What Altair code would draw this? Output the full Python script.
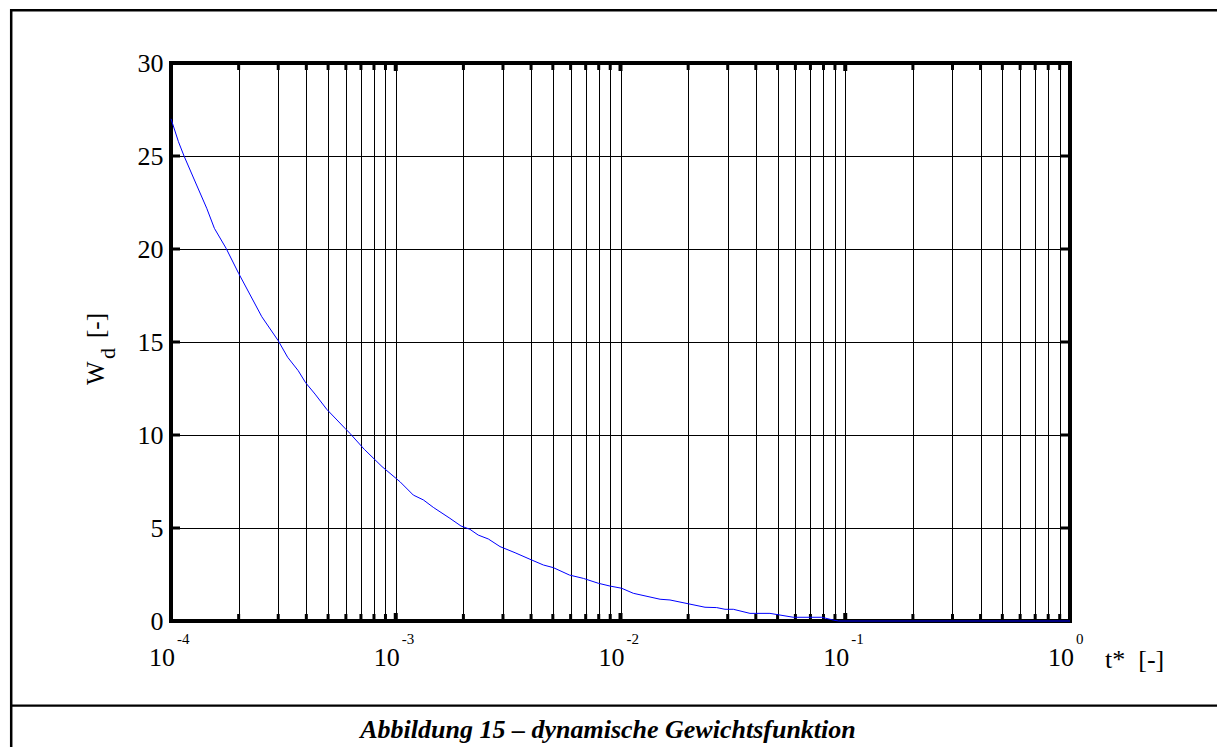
import altair as alt
import pandas as pd

# ---- data ----
t_values = [1.0e-4, 1.079e-4, 1.143e-4, 1.300e-4, 1.442e-4, 1.560e-4, 1.758e-4, 2.0e-4,
            2.535e-4, 3.0e-4, 3.304e-4, 3.681e-4, 3.972e-4, 4.375e-4, 4.932e-4, 5.943e-4,
            6.252e-4, 7.244e-4, 8.69e-4, 1.044e-3, 1.197e-3, 1.327e-3, 1.469e-3, 1.742e-3,
            1.950e-3, 2.138e-3, 2.328e-3, 2.582e-3, 2.911e-3, 3.396e-3, 3.954e-3, 4.539e-3,
            5.023e-3, 5.929e-3, 6.839e-3, 7.962e-3, 8.974e-3, 1.012e-2, 1.140e-2, 1.500e-2,
            1.660e-2, 2.377e-2, 2.679e-2, 2.917e-2, 3.177e-2, 3.767e-2, 4.624e-2, 5.875e-2,
            7.852e-2, 8.851e-2, 9.33e-2, 1.0]
wd_values = [27.0, 25.77, 25.0, 23.44, 22.19, 21.11, 20.04, 18.69,
             16.36, 15.07, 14.18, 13.46, 12.81, 12.2, 11.38, 10.36,
             10.09, 9.23, 8.3, 7.49, 6.77, 6.51, 6.11, 5.52,
             5.11, 4.93, 4.62, 4.41, 4.0, 3.67, 3.32, 3.01,
             2.87, 2.47, 2.29, 2.03, 1.88, 1.76, 1.49, 1.17,
             1.13, 0.74, 0.72, 0.63, 0.63, 0.41, 0.41, 0.2,
             0.2, 0.05, 0.0, 0.0]

x_grid = [0.0001, 0.0002, 0.0003, 0.0004, 0.0005, 0.0006, 0.0007, 0.0008, 0.0009,
          0.001, 0.002, 0.003, 0.004, 0.005, 0.006, 0.007, 0.008, 0.009,
          0.01, 0.02, 0.03, 0.04, 0.05, 0.06, 0.07, 0.08, 0.09,
          0.1, 0.2, 0.3, 0.4, 0.5, 0.6, 0.7, 0.8, 0.9, 1.0]
decades = [0.0001, 0.001, 0.01, 0.1, 1.0]
exponents = ["-4", "-3", "-2", "-1", "0"]
y_ticks = [0, 5, 10, 15, 20, 25, 30]
y_inner = [5, 10, 15, 20, 25]

caption = "Abbildung 15 \u2013 dynamische Gewichtsfunktion"

W, H = 899, 558
SERIF = "Liberation Serif"

curve = pd.DataFrame({"t": t_values, "wd": wd_values})
minor_df = pd.DataFrame({"t": [v for v in x_grid if v not in decades]})
dec_df = pd.DataFrame({"t": decades, "e": exponents})
yin_df = pd.DataFrame({"y": y_inner})
one = pd.DataFrame({"k": [0]})

xscale = alt.Scale(type="log", domain=[1e-4, 1], nice=False)
yscale = alt.Scale(domain=[0, 30], nice=False)

xaxis = alt.Axis(values=x_grid, labels=False, ticks=False, domain=False, grid=True,
                 gridColor="black", gridWidth=1, gridOpacity=1, title=None)
yaxis = alt.Axis(values=y_ticks, ticks=False, domain=False, grid=True,
                 gridColor="black", gridWidth=1, gridOpacity=1, title=None,
                 labelFont=SERIF, labelFontSize=26, labelColor="black", labelPadding=8)

X = alt.X("t:Q", scale=xscale, axis=xaxis)

# base layer holding the axes/grid
base = alt.Chart(curve).mark_line(opacity=0).encode(
    x=X, y=alt.Y("wd:Q", scale=yscale, axis=yaxis)
)

# inward ticks
xt_minor_b = alt.Chart(minor_df).mark_rule(color="black", strokeWidth=3).encode(
    x=alt.X("t:Q", scale=xscale), y=alt.value(H - 7), y2=alt.value(H))
xt_minor_t = alt.Chart(minor_df).mark_rule(color="black", strokeWidth=3).encode(
    x=alt.X("t:Q", scale=xscale), y=alt.value(0), y2=alt.value(7))
xt_dec_b = alt.Chart(dec_df).mark_rule(color="black", strokeWidth=4).encode(
    x=alt.X("t:Q", scale=xscale), y=alt.value(H - 8), y2=alt.value(H))
xt_dec_t = alt.Chart(dec_df).mark_rule(color="black", strokeWidth=4).encode(
    x=alt.X("t:Q", scale=xscale), y=alt.value(0), y2=alt.value(8))
yt_l = alt.Chart(yin_df).mark_rule(color="black", strokeWidth=3).encode(
    y=alt.Y("y:Q", scale=yscale), x=alt.value(0), x2=alt.value(9))
yt_r = alt.Chart(yin_df).mark_rule(color="black", strokeWidth=3).encode(
    y=alt.Y("y:Q", scale=yscale), x=alt.value(W - 9), x2=alt.value(W))

# plot frame
frame = [
    alt.Chart(one).mark_rule(color="black", strokeWidth=4).encode(
        x=alt.value(-2), x2=alt.value(W + 2), y=alt.value(0)),
    alt.Chart(one).mark_rule(color="black", strokeWidth=4).encode(
        x=alt.value(-2), x2=alt.value(W + 2), y=alt.value(H)),
    alt.Chart(one).mark_rule(color="black", strokeWidth=4).encode(
        x=alt.value(0), y=alt.value(-2), y2=alt.value(H + 2)),
    alt.Chart(one).mark_rule(color="black", strokeWidth=4).encode(
        x=alt.value(W), y=alt.value(-2), y2=alt.value(H + 2)),
]

# figure border and caption separator
border = [
    alt.Chart(one).mark_rule(color="black", strokeWidth=2.5).encode(
        x=alt.value(-160), x2=alt.value(1050), y=alt.value(-52.7)),
    alt.Chart(one).mark_rule(color="black", strokeWidth=2.5).encode(
        x=alt.value(-159.8), y=alt.value(-54), y2=alt.value(700)),
    alt.Chart(one).mark_rule(color="black", strokeWidth=2.3).encode(
        x=alt.value(-160), x2=alt.value(1050), y=alt.value(642.7)),
]

line = alt.Chart(curve).mark_line(color="#0000ff", strokeWidth=1).encode(
    x=alt.X("t:Q", scale=xscale), y=alt.Y("wd:Q", scale=yscale))

# decade tick labels: "10" with superscript exponent
lab10 = alt.Chart(dec_df).mark_text(font=SERIF, fontSize=26, color="black",
                                    align="right", baseline="alphabetic", dx=4).encode(
    x=alt.X("t:Q", scale=xscale), y=alt.value(603), text=alt.value("10"))
labexp = alt.Chart(dec_df).mark_text(font=SERIF, fontSize=15, color="black",
                                     align="left", baseline="alphabetic", dx=6).encode(
    x=alt.X("t:Q", scale=xscale), y=alt.value(581), text="e:N")

xtitle = alt.Chart(one).mark_text(font=SERIF, fontSize=26, color="black",
                                  align="left", baseline="alphabetic").encode(
    x=alt.value(934), y=alt.value(605), text=alt.value("t*\u00a0\u00a0[-]"))

ytitle_w = alt.Chart(one).mark_text(font=SERIF, fontSize=25, color="black", angle=270,
                                    align="left", baseline="alphabetic").encode(
    x=alt.value(-67), y=alt.value(322), text=alt.value("W"))
ytitle_d = alt.Chart(one).mark_text(font=SERIF, fontSize=22, color="black", angle=270,
                                    align="left", baseline="alphabetic").encode(
    x=alt.value(-56), y=alt.value(296), text=alt.value("d"))
ytitle_u = alt.Chart(one).mark_text(font=SERIF, fontSize=25, color="black", angle=270,
                                    align="left", baseline="alphabetic").encode(
    x=alt.value(-67), y=alt.value(275), text=alt.value("[-]"))

cap = alt.Chart(one).mark_text(font=SERIF, fontSize=26, fontWeight="bold",
                               fontStyle="italic", color="black",
                               align="center", baseline="alphabetic").encode(
    x=alt.value(608 - 171), y=alt.value(738 - 63), text=alt.value(caption))

chart = alt.layer(
    base, xt_minor_b, xt_minor_t, xt_dec_b, xt_dec_t, yt_l, yt_r,
    *frame, line, lab10, labexp, xtitle, ytitle_w, ytitle_d, ytitle_u,
    *border, cap
).properties(
    width=W, height=H,
    autosize=alt.AutoSizeParams(type="none"),
    padding={"left": 171, "top": 63, "right": 1217 - 171 - W, "bottom": 747 - 63 - H},
    background="white",
).configure_view(stroke=None)

chart.save("out.html", embed_options={"renderer": "svg", "actions": False})
